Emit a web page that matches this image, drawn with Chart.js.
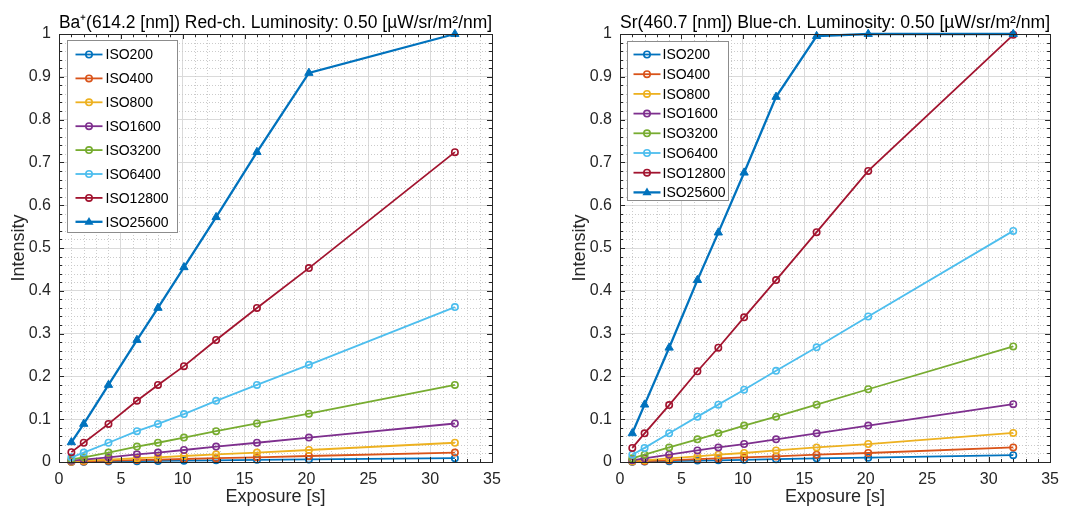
<!DOCTYPE html>
<html>
<head>
<meta charset="utf-8">
<script src="https://cdn.jsdelivr.net/npm/chart.js@4.4.1/dist/chart.umd.min.js"></script>
<style>
  html, body { margin: 0; padding: 0; background: #fff; }
  #wrap { position: relative; width: 1067px; height: 511px; }
  .pane { position: absolute; top: 0; height: 511px; }
</style>
</head>
<body>
<div id="wrap">
  <div class="pane" style="left:0;width:540px"><canvas id="chartBa"></canvas></div>
  <div class="pane" style="left:561px;width:506px"><canvas id="chartSr"></canvas></div>
</div>
<script>
// exposure times [s]
var exposure = [1, 2, 4, 6.3, 8, 10.1, 12.7, 16, 20.2, 32];
var isoLabels = ['ISO200', 'ISO400', 'ISO800', 'ISO1600', 'ISO3200', 'ISO6400', 'ISO12800', 'ISO25600'];
var isoColors = ['#0072BD', '#D95319', '#EDB120', '#7E2F8E', '#77AC30', '#4DBEEE', '#A2142F', '#0072BD'];

// Ba+ 614.2 nm, red channel
var ba200   = [0.0003, 0.0007, 0.0013, 0.002, 0.0025, 0.003, 0.004, 0.005, 0.006, 0.009];
var ba400   = [0.0007, 0.0014, 0.003, 0.0045, 0.0056, 0.007, 0.009, 0.011, 0.014, 0.022];
var ba800   = [0.0014, 0.003, 0.0056, 0.009, 0.011, 0.014, 0.018, 0.022, 0.028, 0.045];
var ba1600  = [0.003, 0.0056, 0.011, 0.018, 0.022, 0.028, 0.036, 0.045, 0.057, 0.09];
var ba3200  = [0.006, 0.011, 0.022, 0.036, 0.045, 0.057, 0.072, 0.09, 0.113, 0.18];
var ba6400  = [0.011, 0.022, 0.045, 0.072, 0.089, 0.112, 0.143, 0.18, 0.227, 0.362];
var ba12800 = [0.023, 0.045, 0.089, 0.143, 0.18, 0.224, 0.285, 0.36, 0.453, 0.724];
var ba25600 = [0.046, 0.089, 0.18, 0.285, 0.36, 0.455, 0.572, 0.724, 0.909, 1.0];

// Sr 460.7 nm, blue channel
var sr200   = [0.0005, 0.001, 0.002, 0.0033, 0.004, 0.005, 0.0067, 0.0085, 0.01, 0.016];
var sr400   = [0.001, 0.002, 0.004, 0.0067, 0.0085, 0.011, 0.013, 0.017, 0.021, 0.034];
var sr800   = [0.002, 0.004, 0.0085, 0.013, 0.017, 0.021, 0.027, 0.034, 0.042, 0.068];
var sr1600  = [0.004, 0.0085, 0.017, 0.027, 0.034, 0.042, 0.053, 0.067, 0.085, 0.135];
var sr3200  = [0.0085, 0.017, 0.034, 0.053, 0.067, 0.085, 0.106, 0.134, 0.17, 0.27];
var sr6400  = [0.017, 0.033, 0.067, 0.106, 0.134, 0.169, 0.213, 0.268, 0.34, 0.54];
var sr12800 = [0.033, 0.067, 0.133, 0.212, 0.267, 0.338, 0.425, 0.537, 0.68, 0.998];
var sr25600 = [0.067, 0.134, 0.267, 0.425, 0.536, 0.676, 0.853, 0.995, 1.0, 1.0];

var baSeries = [ba200, ba400, ba800, ba1600, ba3200, ba6400, ba12800, ba25600];
var srSeries = [sr200, sr400, sr800, sr1600, sr3200, sr6400, sr12800, sr25600];

var FONT = "'Liberation Sans', Arial, Helvetica, sans-serif";
var AXIS_COLOR = '#262626';

function drawMarker(ctx, style, x, y, color) {
  ctx.beginPath();
  if (style === 'triangle') {
    var r = 4.8;
    ctx.moveTo(x, y - r);
    ctx.lineTo(x + r * 0.95, y + r * 0.6);
    ctx.lineTo(x - r * 0.95, y + r * 0.6);
    ctx.closePath();
    ctx.fillStyle = color;
    ctx.fill();
  } else {
    ctx.arc(x, y, 3.2, 0, Math.PI * 2);
    ctx.lineWidth = 1.6;
    ctx.strokeStyle = color;
    ctx.stroke();
  }
}

// MATLAB-like axes: minor dotted grid, inward ticks, full box
var matlabAxes = {
  id: 'matlabAxes',
  beforeDatasetsDraw: function(chart, args, o) {
    var ctx = chart.ctx, a = chart.chartArea;
    var xs = chart.scales.x, ys = chart.scales.y;
    ctx.save();
    ctx.strokeStyle = '#cbcbcb';
    ctx.lineWidth = 1;
    ctx.setLineDash([1, 2]);
    var k, v, p;
    var nx = Math.round((xs.max - xs.min) / o.xMinor);
    for (k = 1; k < nx; k++) {
      if (k % o.xRatio === 0) continue;
      v = xs.min + k * o.xMinor;
      p = Math.round(xs.getPixelForValue(v)) + 0.5;
      ctx.beginPath(); ctx.moveTo(p, a.top); ctx.lineTo(p, a.bottom); ctx.stroke();
    }
    var ny = Math.round((ys.max - ys.min) / o.yMinor);
    for (k = 1; k < ny; k++) {
      if (k % o.yRatio === 0) continue;
      v = ys.min + k * o.yMinor;
      p = Math.round(ys.getPixelForValue(v)) + 0.5;
      ctx.beginPath(); ctx.moveTo(a.left, p); ctx.lineTo(a.right, p); ctx.stroke();
    }
    ctx.restore();
  },
  afterDatasetsDraw: function(chart, args, o) {
    var ctx = chart.ctx, a = chart.chartArea;
    var xs = chart.scales.x, ys = chart.scales.y;
    ctx.save();
    ctx.strokeStyle = AXIS_COLOR;
    ctx.lineWidth = 1;
    var k, p, len;
    var nx = Math.round((xs.max - xs.min) / o.xMinor);
    for (k = 1; k < nx; k++) {
      len = (k % o.xRatio === 0) ? 5 : 3;
      p = Math.round(xs.getPixelForValue(xs.min + k * o.xMinor)) + 0.5;
      ctx.beginPath();
      ctx.moveTo(p, a.bottom); ctx.lineTo(p, a.bottom - len);
      ctx.moveTo(p, a.top); ctx.lineTo(p, a.top + len);
      ctx.stroke();
    }
    var ny = Math.round((ys.max - ys.min) / o.yMinor);
    for (k = 1; k < ny; k++) {
      len = (k % o.yRatio === 0) ? 5 : 3;
      p = Math.round(ys.getPixelForValue(ys.min + k * o.yMinor)) + 0.5;
      ctx.beginPath();
      ctx.moveTo(a.left, p); ctx.lineTo(a.left + len, p);
      ctx.moveTo(a.right, p); ctx.lineTo(a.right - len, p);
      ctx.stroke();
    }
    ctx.strokeRect(Math.round(a.left) + 0.5, Math.round(a.top) + 0.5,
      Math.round(a.right - a.left), Math.round(a.bottom - a.top));
    ctx.restore();
  }
};

// legend box drawn inside the plot area
var boxLegend = {
  id: 'boxLegend',
  afterDraw: function(chart, args, o) {
    var ctx = chart.ctx, a = chart.chartArea;
    var x0 = Math.round(a.left + o.dx) + 0.5, y0 = Math.round(a.top + o.dy) + 0.5;
    ctx.save();
    ctx.fillStyle = '#fff';
    ctx.fillRect(x0, y0, o.width, o.height);
    ctx.strokeStyle = '#8c8c8c';
    ctx.lineWidth = 1;
    ctx.strokeRect(x0, y0, o.width, o.height);
    ctx.font = '14px ' + FONT;
    ctx.textBaseline = 'middle';
    chart.data.datasets.forEach(function(ds, i) {
      var y = y0 + o.firstRow + i * o.rowH;
      ctx.beginPath();
      ctx.moveTo(x0 + o.lineX0, y);
      ctx.lineTo(x0 + o.lineX1, y);
      ctx.strokeStyle = ds.borderColor;
      ctx.lineWidth = ds.borderWidth;
      ctx.stroke();
      drawMarker(ctx, ds.pointStyle, x0 + (o.lineX0 + o.lineX1) / 2, y, ds.borderColor);
      ctx.fillStyle = '#000';
      ctx.fillText(ds.label, x0 + o.textX, y + 1);
    });
    ctx.restore();
  }
};

function makeChart(id, titleText, series, padRight, legendOpts) {
  var datasets = series.map(function(vals, i) {
    var tri = i === series.length - 1;
    return {
      label: isoLabels[i],
      data: vals.map(function(v, j) { return { x: exposure[j], y: v }; }),
      borderColor: isoColors[i],
      borderWidth: tri ? 2.3 : 1.8,
      pointStyle: tri ? 'triangle' : 'circle',
      pointRadius: tri ? 4.8 : 3.2,
      pointBorderWidth: tri ? 1 : 1.6,
      pointBackgroundColor: tri ? isoColors[i] : 'rgba(0,0,0,0)',
      pointBorderColor: isoColors[i],
      tension: 0,
      clip: false,
      order: series.length - i
    };
  });

  return new Chart(document.getElementById(id), {
    type: 'line',
    data: { datasets: datasets },
    options: {
      responsive: true,
      maintainAspectRatio: false,
      animation: false,
      devicePixelRatio: 1,
      events: [],
      layout: { padding: { left: 0, right: padRight, top: 0, bottom: 0 } },
      plugins: {
        legend: { display: false },
        tooltip: { enabled: false },
        title: {
          display: true,
          text: titleText,
          fullSize: false,
          color: '#000',
          font: { family: FONT, size: 18, weight: 'normal' },
          padding: { top: 12, bottom: 0.4 }
        },
        matlabAxes: { xMinor: 1, xRatio: 5, yMinor: 0.02, yRatio: 5 },
        boxLegend: legendOpts
      },
      scales: {
        x: {
          type: 'linear',
          min: 0, max: 35,
          afterFit: function(s) { s.height = 49; },
          border: { display: false },
          grid: { color: '#dadada', drawTicks: false },
          ticks: { stepSize: 5, padding: 8, color: AXIS_COLOR, font: { family: FONT, size: 16 } },
          title: {
            display: true, text: 'Exposure [s]', color: AXIS_COLOR,
            font: { family: FONT, size: 18 }, padding: { top: 0, bottom: 3 }
          }
        },
        y: {
          type: 'linear',
          min: 0, max: 1,
          afterFit: function(s) { s.width = 59; },
          border: { display: false },
          grid: { color: '#dadada', drawTicks: false },
          ticks: {
            stepSize: 0.1, padding: 8, color: AXIS_COLOR, font: { family: FONT, size: 16 },
            callback: function(v) { return String(Math.round(v * 10) / 10); }
          },
          title: {
            display: true, text: 'Intensity', color: AXIS_COLOR,
            font: { family: FONT, size: 18 }, padding: { top: 8, bottom: 0 }
          }
        }
      }
    },
    plugins: [matlabAxes, boxLegend]
  });
}

makeChart('chartBa', 'Ba\u207A(614.2 [nm]) Red-ch. Luminosity: 0.50 [\u00B5W/sr/m\u00B2/nm]', baSeries, 48,
  { dx: 8, dy: 6, width: 110, height: 192, firstRow: 14, rowH: 23.9, lineX0: 8, lineX1: 35, textX: 38 });
makeChart('chartSr', 'Sr(460.7 [nm]) Blue-ch. Luminosity: 0.50 [\u00B5W/sr/m\u00B2/nm]', srSeries, 13,
  { dx: 7, dy: 7, width: 101, height: 159, firstRow: 13, rowH: 19.7, lineX0: 6, lineX1: 33, textX: 35 });
</script>
</body>
</html>
